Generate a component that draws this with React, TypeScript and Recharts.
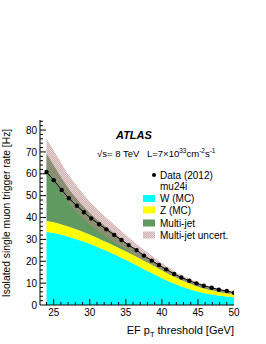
import React from 'react';
import { ComposedChart, Area, Line, XAxis, YAxis } from 'recharts';

const thresholds = [24.0, 25.0, 26.1, 27.1, 28.2, 29.2, 30.2, 31.3, 32.3, 33.4, 34.4, 35.4, 36.5, 37.5, 38.6, 39.6, 40.6, 41.7, 42.7, 43.8, 44.8, 45.8, 46.9, 47.9, 49.0, 50.0];
const dataRate = [60.8, 57.1, 52.6, 48.8, 45.4, 42.4, 39.6, 36.9, 34.6, 32.0, 29.7, 27.4, 25.1, 22.6, 20.3, 18.3, 16.3, 14.2, 12.6, 11.1, 9.9, 8.8, 7.9, 7.0, 6.4, 5.6];
const wMC = [33.5, 32.9, 32.1, 31.2, 30.1, 29.0, 27.7, 26.2, 24.8, 23.2, 21.6, 20.0, 18.2, 16.4, 14.6, 12.9, 11.3, 9.8, 8.5, 7.3, 6.3, 5.5, 4.8, 4.3, 3.9, 3.6];
const zMC = [5.0, 4.9, 4.75, 4.6, 4.45, 4.3, 4.2, 4.1, 4.0, 3.95, 3.9, 3.9, 3.85, 3.85, 3.8, 3.7, 3.5, 3.2, 2.9, 2.6, 2.3, 2.1, 1.9, 1.7, 1.5, 1.4];
const multiJet = [30.8, 26.0, 21.2, 17.2, 14.0, 11.5, 9.5, 8.0, 6.7, 5.6, 4.7, 3.8, 3.1, 2.6, 2.1, 1.8, 1.5, 1.3, 1.2, 1.1, 1.1, 1.0, 0.9, 0.8, 0.7, 0.4];
const multiJetUncert = [7.0, 6.8, 6.6, 6.3, 6.0, 5.6, 5.2, 4.8, 4.4, 4.0, 3.6, 3.2, 2.8, 2.4, 2.0, 1.7, 1.5, 1.3, 1.1, 1.0, 0.9, 0.8, 0.7, 0.7, 0.6, 0.6];

const xTicks = [24, 25, 26, 27, 28, 29, 30, 31, 32, 33, 34, 35, 36, 37, 38, 39, 40, 41, 42, 43, 44, 45, 46, 47, 48, 49];
const xLabels = [25, 30, 35, 40, 45, 50];
const yTicks = [2, 4, 6, 8, 10, 12, 14, 16, 18, 20, 22, 24, 26, 28, 30, 32, 34, 36, 38, 40, 42, 44, 46, 48, 50, 52, 54, 56, 58, 60, 62, 64, 66, 68, 70, 72, 74, 76, 78, 80, 82, 84];
const yLabels = [0, 10, 20, 30, 40, 50, 60, 70, 80];

const rows = thresholds.map((x, i) => {
  const total = wMC[i] + zMC[i] + multiJet[i];
  return {
    x,
    w: wMC[i],
    z: zMC[i],
    mj: multiJet[i],
    band: [total - multiJetUncert[i], total + multiJetUncert[i]],
    data: dataRate[i],
  };
});

const FONT = '"Liberation Sans", Arial, Helvetica, sans-serif';
const CYAN = '#00ffff';
const YELLOW = '#ffff00';
const GREEN = '#619a61';

const BottomTick = (props: any) => {
  const { x, y, payload } = props;
  const v = payload.value;
  const major = xLabels.includes(v);
  return (
    <g>
      {v < 50 && <line x1={x} x2={x} y1={y} y2={y - (major ? 6 : 3)} stroke="#000" strokeWidth={1} />}
      {major && (
        <text x={x} y={y + 11} textAnchor="middle" fontSize={10} fontFamily={FONT} fill="#000">
          {v}
        </text>
      )}
    </g>
  );
};

const TopTick = (props: any) => {
  const { x, y, payload } = props;
  const v = payload.value;
  const major = xLabels.includes(v);
  if (v >= 50) return <g />;
  return <line x1={x} x2={x} y1={y} y2={y + (major ? 6 : 3)} stroke="#000" strokeWidth={1} />;
};

const LeftTick = (props: any) => {
  const { x, y, payload } = props;
  const v = payload.value;
  const major = yLabels.includes(v);
  return (
    <g>
      {v > 0 && <line x1={x} x2={x + (major ? 6 : 3)} y1={y} y2={y} stroke="#000" strokeWidth={1} />}
      {major && (
        <text x={x - 3} y={y + 3.6} textAnchor="end" fontSize={10} fontFamily={FONT} fill="#000">
          {v}
        </text>
      )}
    </g>
  );
};

const RightTick = (props: any) => {
  const { x, y, payload } = props;
  const v = payload.value;
  const major = yLabels.includes(v);
  if (v <= 0) return <g />;
  return <line x1={x} x2={x - (major ? 6 : 3)} y1={y} y2={y} stroke="#000" strokeWidth={1} />;
};

const allYTicks = [0, ...yTicks];
const allXTicks = [...xTicks, 50];

const HatchPattern = ({ id }: { id: string }) => (
  <pattern id={id} patternUnits="userSpaceOnUse" width={2} height={2}>
    <rect x={0} y={0} width={2} height={2} fill="#c49a9a" fillOpacity={0.4} />
    <path d="M0,2 L2,0" stroke="#9a5656" strokeWidth={0.5} strokeOpacity={0.65} />
  </pattern>
);

export default function App() {
  return (
    <div style={{ position: 'absolute', left: 0, top: 0, width: 266, height: 344, background: '#fff' }}>
      <ComposedChart
        width={266}
        height={344}
        data={rows}
        margin={{ top: 120, right: 32, bottom: 9, left: 0 }}
      >
        <defs>
          <HatchPattern id="hatchBand" />
        </defs>
        <XAxis
          dataKey="x"
          type="number"
          domain={[23.1, 50]}
          allowDataOverflow
          ticks={allXTicks}
          interval={0}
          height={30}
          tickSize={0}
          tickMargin={0}
          tickLine={false}
          axisLine={{ stroke: '#000', strokeWidth: 1 }}
          tick={<BottomTick />}
        />
        <XAxis
          xAxisId="top"
          orientation="top"
          dataKey="x"
          type="number"
          domain={[23.1, 50]}
          allowDataOverflow
          ticks={allXTicks}
          interval={0}
          height={0}
          tickSize={0}
          tickMargin={0}
          tickLine={false}
          axisLine={{ stroke: '#000', strokeWidth: 1 }}
          tick={<TopTick />}
        />
        <YAxis
          type="number"
          domain={[0, 84.6]}
          allowDataOverflow
          ticks={allYTicks}
          interval={0}
          width={40}
          tickSize={0}
          tickMargin={0}
          tickLine={false}
          axisLine={{ stroke: '#000', strokeWidth: 1 }}
          tick={<LeftTick />}
        />
        <YAxis
          yAxisId="right"
          orientation="right"
          type="number"
          domain={[0, 84.6]}
          allowDataOverflow
          ticks={allYTicks}
          interval={0}
          width={0}
          tickSize={0}
          tickMargin={0}
          tickLine={false}
          axisLine={{ stroke: '#000', strokeWidth: 1 }}
          tick={<RightTick />}
        />
        <Area type="monotone" dataKey="w" stackId="mc" fill={CYAN} fillOpacity={1} stroke="none" isAnimationActive={false} />
        <Area type="monotone" dataKey="z" stackId="mc" fill={YELLOW} fillOpacity={1} stroke="none" isAnimationActive={false} />
        <Area type="monotone" dataKey="mj" stackId="mc" fill={GREEN} fillOpacity={1} stroke="none" isAnimationActive={false} />
        <Area type="monotone" dataKey="band" fill="url(#hatchBand)" fillOpacity={1} stroke="none" isAnimationActive={false} />
        <Line
          type="linear"
          dataKey="data"
          stroke="#000"
          strokeWidth={1}
          dot={{ r: 2.2, fill: '#000', stroke: '#000', strokeWidth: 0 }}
          activeDot={false}
          isAnimationActive={false}
        />
      </ComposedChart>
      <svg
        width={266}
        height={344}
        style={{ position: 'absolute', left: 0, top: 0, pointerEvents: 'none' }}
        fontFamily={FONT}
      >
        <defs>
          <HatchPattern id="hatchLegend" />
        </defs>
        <text x={116} y={139} fontSize={11} fontWeight="bold" fontStyle="italic" fill="#000">ATLAS</text>
        <text x={97} y={156.5} fontSize={9.5} fill="#000">√s= 8 TeV</text>
        <text x={147} y={156.5} fontSize={9.5} fill="#000">
          <tspan>L=7×10</tspan>
          <tspan dy={-4} fontSize={6.5}>33</tspan>
          <tspan dy={4}>cm</tspan>
          <tspan dy={-4} fontSize={6.5}>-2</tspan>
          <tspan dy={4}>s</tspan>
          <tspan dy={-4} fontSize={6.5}>-1</tspan>
        </text>
        <circle cx={154} cy={175} r={2} fill="#000" />
        <text x={160} y={178.6} fontSize={10} fill="#000">Data (2012)</text>
        <text x={160} y={190.3} fontSize={10} fill="#000">mu24i</text>
        <rect x={143} y={195} width={12} height={7} fill={CYAN} />
        <text x={160} y={202} fontSize={10} fill="#000">W (MC)</text>
        <rect x={143} y={206.5} width={12} height={7} fill={YELLOW} />
        <text x={160} y={213.6} fontSize={10} fill="#000">Z (MC)</text>
        <rect x={143} y={219.5} width={12} height={7} fill={GREEN} />
        <text x={160} y={226.8} fontSize={10} fill="#000">Multi-jet</text>
        <rect x={143} y={231.5} width={12} height={7} fill="url(#hatchLegend)" />
        <text x={160} y={238.6} fontSize={10} fill="#000">Multi-jet uncert.</text>
        <text transform="rotate(-90)" x={-213} y={10} textAnchor="middle" fontSize={10.3} fill="#000">
          Isolated single muon trigger rate [Hz]
        </text>
        <text x={234} y={333.5} textAnchor="end" fontSize={11} fill="#000">
          <tspan>EF p</tspan>
          <tspan dy={3} fontSize={7.5}>T</tspan>
          <tspan dy={-3}> threshold [GeV]</tspan>
        </text>
      </svg>
    </div>
  );
}
